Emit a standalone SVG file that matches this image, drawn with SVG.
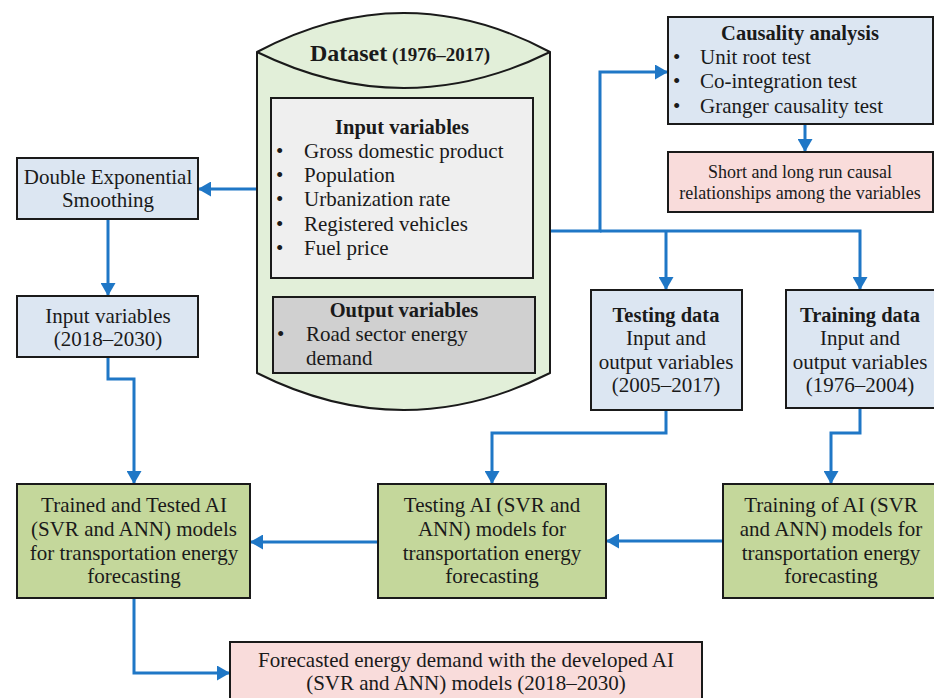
<svg xmlns="http://www.w3.org/2000/svg" width="934" height="698" viewBox="0 0 934 698">
<style>
text{font-family:"Liberation Serif","Times New Roman",serif;font-size:21px;fill:#1a1a1a}
.b{font-weight:bold;font-size:20.5px}
.c{text-anchor:middle}
.s{font-size:18px}
.box{stroke:#1a1a1a;stroke-width:2}
.blue{fill:#dce6f2}
.green{fill:#c4d79b}
.pink{fill:#f9dcdb}
.con{fill:none;stroke:#1f77c6;stroke-width:3}
</style>
<defs>
<marker id="ah" markerUnits="userSpaceOnUse" markerWidth="13" markerHeight="15" refX="12" refY="7.5" orient="auto">
<path d="M0,0 L13,7.5 L0,15 z" fill="#1f77c6"/>
</marker>
</defs>
<rect width="934" height="698" fill="#ffffff"/>

<g id="connectors">
<path class="con" d="M257,189 L199,189" marker-end="url(#ah)"/>
<path class="con" d="M108,219 L108,295" marker-end="url(#ah)"/>
<path class="con" d="M108,357 L108,379 L134,379 L134,483" marker-end="url(#ah)"/>
<path class="con" d="M550,231 L600,231 L600,72 L667,72" marker-end="url(#ah)"/>
<path class="con" d="M600,231 L860,231 L860,289" marker-end="url(#ah)"/>
<path class="con" d="M666,231 L666,289" marker-end="url(#ah)"/>
<path class="con" d="M805,124 L805,151" marker-end="url(#ah)"/>
<path class="con" d="M666,410 L666,433 L492,433 L492,483" marker-end="url(#ah)"/>
<path class="con" d="M860,408 L860,433 L831,433 L831,483" marker-end="url(#ah)"/>
<path class="con" d="M723,541 L607,541" marker-end="url(#ah)"/>
<path class="con" d="M378,542 L251,542" marker-end="url(#ah)"/>
<path class="con" d="M134,598 L134,673 L229,673" marker-end="url(#ah)"/>
</g>

<g id="dataset">
<path class="box" d="M257,52 Q404,-26 550,52 L550,373 Q404,447 257,373 Z" fill="#e2efd9"/>
<path class="box" d="M257,52 Q404,124 550,52" fill="none"/>
<text x="400" y="61" class="c"><tspan font-weight="bold" font-size="24px">Dataset</tspan><tspan font-weight="bold" font-size="19px"> (1976–2017)</tspan></text>
</g>

<g id="input-variables">
<rect class="box" x="271" y="98" width="262" height="180" fill="#efefef"/>
<text x="402" y="134" class="b c">Input variables</text>
<text x="276" y="158">•</text><text x="304" y="158">Gross domestic product</text>
<text x="276" y="182">•</text><text x="304" y="182">Population</text>
<text x="276" y="206">•</text><text x="304" y="206">Urbanization rate</text>
<text x="276" y="231">•</text><text x="304" y="231">Registered vehicles</text>
<text x="276" y="255">•</text><text x="304" y="255">Fuel price</text>
</g>

<g id="output-variables">
<rect class="box" x="273" y="297" width="262" height="76" fill="#d0d0d0"/>
<text x="404" y="317" class="b c">Output variables</text>
<text x="277" y="341">•</text><text x="306" y="341">Road sector energy</text>
<text x="306" y="365">demand</text>
</g>

<g id="causality">
<rect class="box blue" x="668" y="17" width="265" height="107"/>
<text x="800" y="40" class="b c">Causality analysis</text>
<text x="673" y="64">•</text><text x="700" y="64">Unit root test</text>
<text x="673" y="88">•</text><text x="700" y="88">Co-integration test</text>
<text x="673" y="113">•</text><text x="700" y="113">Granger causality test</text>
</g>

<g id="causal-relationships">
<rect class="box pink" x="668" y="152" width="265" height="60"/>
<text x="800" y="178" class="c s">Short and long run causal</text>
<text x="800" y="199" class="c s">relationships among the variables</text>
</g>

<g id="des">
<rect class="box blue" x="17" y="158" width="181" height="61"/>
<text x="108" y="184" class="c">Double Exponential</text>
<text x="108" y="207" class="c">Smoothing</text>
</g>

<g id="input-2018">
<rect class="box blue" x="17" y="296" width="181" height="61"/>
<text x="108" y="323" class="c">Input variables</text>
<text x="108" y="346" class="c">(2018–2030)</text>
</g>

<g id="testing-data">
<rect class="box blue" x="591" y="290" width="151" height="120"/>
<text x="666" y="322" class="b c">Testing data</text>
<text x="666" y="345" class="c">Input and</text>
<text x="666" y="369" class="c">output variables</text>
<text x="666" y="392" class="c">(2005–2017)</text>
</g>

<g id="training-data">
<rect class="box blue" x="786" y="290" width="150" height="118"/>
<text x="860" y="322" class="b c">Training data</text>
<text x="860" y="345" class="c">Input and</text>
<text x="860" y="369" class="c">output variables</text>
<text x="860" y="392" class="c">(1976–2004)</text>
</g>

<g id="trained-tested">
<rect class="box green" x="17" y="484" width="233" height="114"/>
<text x="134" y="512" class="c">Trained and Tested AI</text>
<text x="134" y="536" class="c">(SVR and ANN) models</text>
<text x="134" y="560" class="c">for transportation energy</text>
<text x="134" y="583" class="c">forecasting</text>
</g>

<g id="testing-ai">
<rect class="box green" x="378" y="484" width="228" height="114"/>
<text x="492" y="512" class="c">Testing AI (SVR and</text>
<text x="492" y="536" class="c">ANN) models for</text>
<text x="492" y="560" class="c">transportation energy</text>
<text x="492" y="583" class="c">forecasting</text>
</g>

<g id="training-ai">
<rect class="box green" x="723" y="484" width="213" height="114"/>
<text x="831" y="512" class="c">Training of AI (SVR</text>
<text x="831" y="536" class="c">and ANN) models for</text>
<text x="831" y="560" class="c">transportation energy</text>
<text x="831" y="583" class="c">forecasting</text>
</g>

<g id="forecast">
<rect class="box pink" x="230" y="642" width="472" height="70"/>
<text x="466" y="667" class="c">Forecasted energy demand with the developed AI</text>
<text x="466" y="690" class="c">(SVR and ANN) models (2018–2030)</text>
</g>
</svg>
